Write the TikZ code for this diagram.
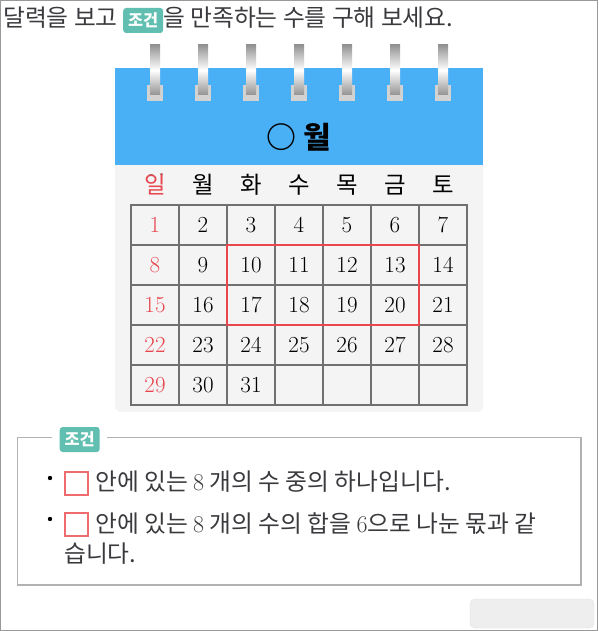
\documentclass[tikz,border=0pt]{standalone}
\usepackage{fontspec}
\usepackage{tikz}
\newfontfamily\kr[Scale=1.17]{Noto Sans CJK KR}
\newcommand\bignum[1]{{\rmfamily\fontsize{24}{26}\selectfont #1}}
\definecolor{skyblue}{RGB}{74,176,246}
\definecolor{paper}{RGB}{244,244,244}
\definecolor{mint}{RGB}{96,191,176}
\definecolor{sunred}{RGB}{232,71,79}
\definecolor{boxred}{RGB}{238,108,110}
\definecolor{ink}{RGB}{58,58,62}
\definecolor{gridgray}{RGB}{112,112,112}
\tikzset{
  badge/.style={fill=mint,rounded corners=3pt,text=white,font=\kr\bfseries\fontsize{14}{16}\selectfont,
    minimum width=40pt,minimum height=25pt,inner sep=0pt},
  daynum/.style={font=\fontsize{23}{26}\selectfont,inner sep=0pt},
  dayname/.style={font=\kr\fontsize{20}{24}\selectfont,inner sep=0pt},
  line/.style={text=ink,font=\kr\fontsize{20.3}{24}\selectfont,inner sep=0pt,anchor=base west}
}

\begin{document}
\begin{tikzpicture}[x=1pt,y=-1pt]
		\useasboundingbox (0,0) rectangle (598,631);
		% border
		\draw[gray!80,line width=1pt] (0.5,0.5) rectangle (597.5,630.5);
		% title
		\node[line] (title1) at (3,27) {달력을 보고};
		\node[badge,anchor=west] (tbadge) at (123,20.5) {조건};
		\node[line] (title2) at (163,27) {을 만족하는 수를 구해 보세요.};
		% calendar sheet
		\fill[paper,rounded corners=6pt] (115,150) rectangle (483,412);
		\fill[skyblue] (115,68.5) rectangle (483,165);
		% rings
		\foreach \c in {0,...,6}{
			\fill[gray!35] (147+48*\c,85) rectangle (163+48*\c,101);
			\shade[top color=gray!85,bottom color=gray!85,middle color=white] (150+48*\c,45) rectangle (160+48*\c,95);
		}
		% month
		\node[font=\kr\bfseries\fontsize{25.6}{30}\selectfont,inner sep=0pt] (month) at (299,137) {○ 월};
		% day names
		\foreach \d [count=\i from 0] in {일,월,화,수,목,금,토}
			\node[dayname] (day\i) at (155+48*\i,185) {\d};
		\node[dayname,text=sunred,fill=paper] at (day0) {일};
		% grid
		\foreach \r in {0,...,5}
			\draw[gridgray,line width=1.5pt] (130.25,205+40*\r) -- (467.75,205+40*\r);
		\foreach \c in {0,...,7}
			\draw[gridgray,line width=1.5pt] (131+48*\c,205) -- (131+48*\c,405);
		% dates
		\foreach \n in {1,...,31}{
			\pgfmathtruncatemacro{\col}{mod(\n-1,7)}
			\pgfmathtruncatemacro{\row}{div(\n-1,7)}
			\ifnum\col=0
				\node[daynum,text=sunred] (d\n) at (155+48*\col,225+40*\row) {\n};
			\else
				\node[daynum] (d\n) at (155+48*\col,225+40*\row) {\n};
			\fi
		}
		% chosen block
		\draw[sunred,line width=1.5pt] (227,245) rectangle (419,325);
		% condition box
		\draw[gray!60,line width=1.5pt] (52,437.5) -- (17.5,437.5) -- (17.5,585) -- (581,585) -- (581,437.5) -- (107,437.5);
		\node[badge,anchor=west] (cbadge) at (59.5,439.5) {조건};
		% conditions
		\fill[black] (50,478) circle (2.2);
		\draw[boxred,line width=2pt] (64.5,472) rectangle (87.5,495);
		\node[line] (cond1) at (95,490) {안에 있는 \bignum{8} 개의 수 중의 하나입니다.};
		\fill[black] (50,519) circle (2.2);
		\draw[boxred,line width=2pt] (64.5,512.5) rectangle (87.5,535.5);
		\node[line] (cond2) at (95,532) {안에 있는 \bignum{8} 개의 수의 합을 \bignum{6}으로 나눈 몫과 같};
		\node[line] (cond3) at (64,562) {습니다.};
		% answer field
		\draw[gray!25,fill=gray!13,rounded corners=5pt] (470,599) rectangle (594,628);
	\end{tikzpicture}
\end{document}
